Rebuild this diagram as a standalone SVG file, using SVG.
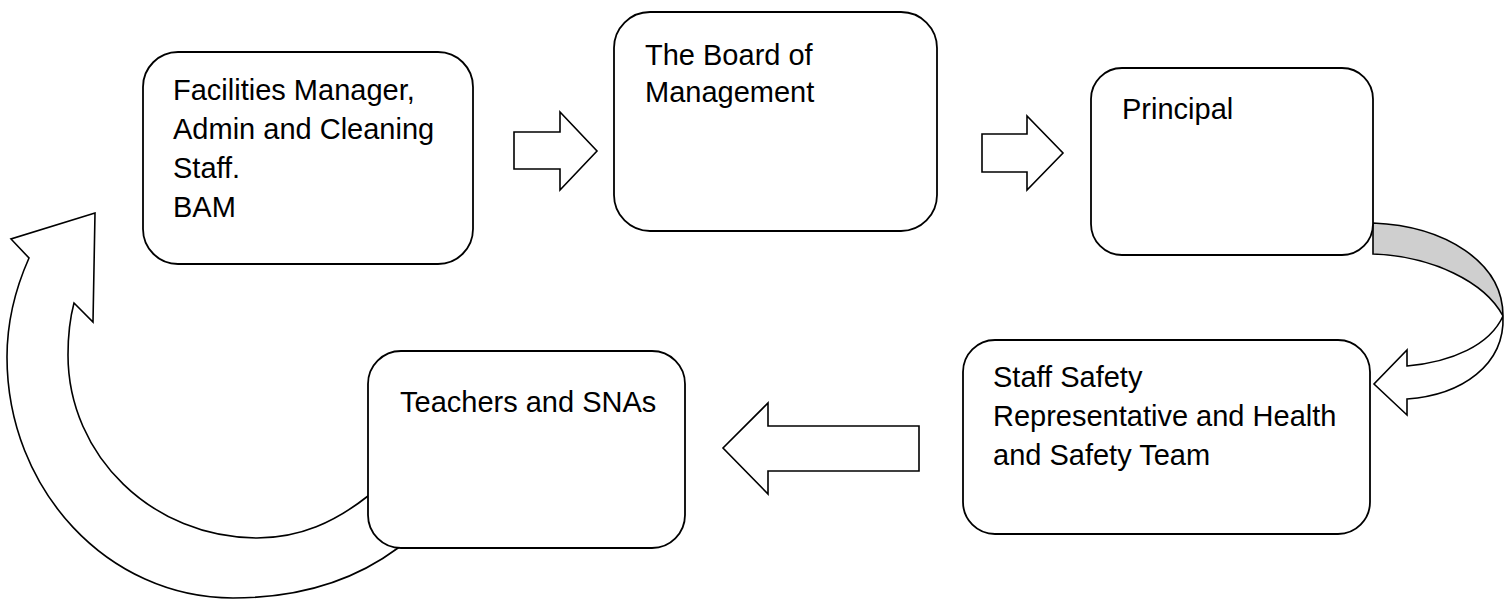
<svg xmlns="http://www.w3.org/2000/svg" width="1510" height="599" viewBox="0 0 1510 599">
<style>
.box{fill:#fff;stroke:#000;stroke-width:1.8}
.arr{fill:#fff;stroke:#000;stroke-width:1.6;stroke-linejoin:miter}
.band{fill:#cfcfcf;stroke:#000;stroke-width:1.6}
text{font-family:"Liberation Sans",Arial,sans-serif;font-size:29px;fill:#000}
</style>
<rect width="1510" height="599" fill="#fff"/>
<g id="connectors">
  <polygon class="arr" points="514,132 560,132 560,112 597,151 560,190 560,169 514,169"/>
  <polygon class="arr" points="982,134 1027,134 1027,116 1063,153 1027,190 1027,172 982,172"/>
  <polygon class="arr" points="919,426 768,426 768,403 723,448 768,494 768,471 919,471"/>
  <path class="band" d="M1373,223 C1445,226 1503,262 1503,316 C1485,282 1432,256 1373,254 Z"/>
  <path class="arr" d="M1503,316 C1490,345 1452,362 1407,366 L1407,350 L1374,384 L1407,415 L1407,399 C1462,395 1505,365 1503,316 Z"/>
  <path class="arr" d="M95,213 L11,239 L29,258 C17,285 7,320 7,357 C7,490 108,598 233,598 C300,598 355,580 398,548 L410,538 L372,500 L368,496 C335,522 300,538 257,538 C153,538 68,456 68,355 C68,335 70,318 74,303 L93,322 Z"/>
</g>
<g id="node-facilities">
  <rect class="box" x="143" y="52" width="330" height="212" rx="35" ry="35"/>
  <text x="173" y="100">Facilities Manager,</text>
  <text x="173" y="139">Admin and Cleaning</text>
  <text x="173" y="178">Staff.</text>
  <text x="173" y="217">BAM</text>
</g>
<g id="node-board">
  <rect class="box" x="614" y="12" width="323" height="219" rx="36" ry="36"/>
  <text x="645" y="65">The Board of</text>
  <text x="645" y="102">Management</text>
</g>
<g id="node-principal">
  <rect class="box" x="1091" y="68" width="282" height="187" rx="31" ry="31"/>
  <text x="1122" y="119">Principal</text>
</g>
<g id="node-safety">
  <rect class="box" x="963" y="340" width="407" height="194" rx="32" ry="32"/>
  <text x="993" y="387">Staff Safety</text>
  <text x="993" y="426">Representative and Health</text>
  <text x="993" y="465">and Safety Team</text>
</g>
<g id="node-teachers">
  <rect class="box" x="368" y="351" width="317" height="197" rx="33" ry="33"/>
  <text x="400" y="412">Teachers and SNAs</text>
</g>
</svg>
